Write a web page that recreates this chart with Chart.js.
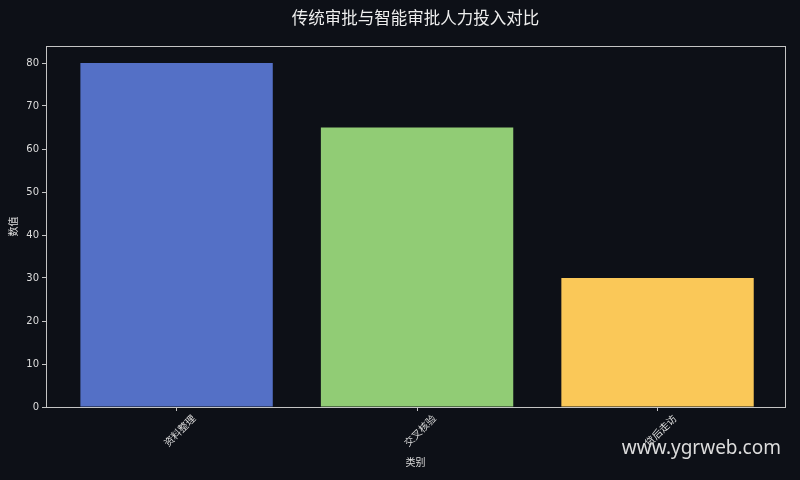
<!DOCTYPE html>
<html>
<head>
<meta charset="utf-8">
<script src="https://cdn.jsdelivr.net/npm/chart.js@4/dist/chart.umd.min.js"></script>
<style>
  html, body { margin: 0; padding: 0; background: #0d1017; }
  #wrap { width: 800px; height: 480px; }
</style>
</head>
<body>
<div id="wrap"><canvas id="barChart" width="800" height="480"></canvas></div>
<script>
const categories = ['资料整理', '交叉核验', '贷后走访'];
const values = [80, 65, 30];
const barColors = ['#5470c6', '#91cc75', '#fac858'];
const yTicks = [0, 10, 20, 30, 40, 50, 60, 70, 80];

const fontFamily = '"DejaVu Sans", "Noto Sans CJK SC", sans-serif';
const textColor = '#dddddd';
const frameColor = '#c4c4c4';

const bgAndFrame = {
    id: 'bgAndFrame',
    beforeDraw(chart) {
        const ctx = chart.ctx;
        ctx.save();
        ctx.fillStyle = '#0d1017';
        ctx.fillRect(0, 0, chart.width, chart.height);
        ctx.restore();
    },
    afterDatasetsDraw(chart) {
        const { ctx, chartArea: a } = chart;
        ctx.save();
        ctx.strokeStyle = frameColor;
        ctx.lineWidth = 1;
        ctx.strokeRect(Math.round(a.left) + 0.5, Math.round(a.top) + 0.5,
            Math.round(a.right - a.left), Math.round(a.bottom - a.top));
        ctx.restore();
    },
    afterDraw(chart) {
        const ctx = chart.ctx;
        ctx.save();
        ctx.font = '19px "Noto Sans", "Open Sans", sans-serif';
        ctx.fillStyle = '#dcdcdc';
        ctx.textAlign = 'right';
        ctx.textBaseline = 'middle';
        ctx.fillText('www.ygrweb.com', 781, 449);
        ctx.restore();
    }
};

new Chart(document.getElementById('barChart'), {
    type: 'bar',
    data: {
        datasets: [{
            label: '数值',
            data: values.map((v, i) => ({ x: i, y: v })),
            backgroundColor: barColors,
            borderWidth: 0,
            barPercentage: 1,
            categoryPercentage: 0.8
        }]
    },
    options: {
        responsive: false,
        animation: false,
        layout: { padding: { left: 0, right: 15, top: 0, bottom: 0 } },
        plugins: {
            legend: { display: false },
            tooltip: { enabled: false },
            title: {
                display: true,
                fullSize: false,
                text: '传统审批与智能审批人力投入对比',
                color: '#eeeeee',
                font: { family: fontFamily, size: 16.5, weight: 'normal' },
                padding: { top: 10, bottom: 16 }
            }
        },
        scales: {
            x: {
                type: 'linear',
                offset: false,
                min: -0.543,
                max: 2.53,
                afterBuildTicks(scale) {
                    scale.ticks = categories.map((c, i) => ({ value: i }));
                },
                afterFit(scale) { scale.height = 73; },
                grid: { offset: false, drawOnChartArea: false, drawTicks: true, tickLength: 4, tickColor: frameColor },
                border: { display: false },
                ticks: {
                    color: textColor,
                    font: { family: fontFamily, size: 10 },
                    minRotation: 45,
                    maxRotation: 45,
                    padding: 2,
                    labelOffset: 18,
                    callback: (v) => categories[v]
                },
                title: {
                    display: true,
                    text: '类别',
                    color: textColor,
                    font: { family: fontFamily, size: 10 },
                    padding: { top: 0, bottom: 11 }
                }
            },
            y: {
                min: 0,
                max: 84,
                afterBuildTicks(scale) {
                    scale.ticks = yTicks.map(v => ({ value: v }));
                },
                afterFit(scale) { scale.width = 46; },
                grid: { drawOnChartArea: false, drawTicks: true, tickLength: 4, tickColor: frameColor },
                border: { display: false },
                ticks: {
                    color: textColor,
                    font: { family: fontFamily, size: 10 },
                    padding: 3
                },
                title: {
                    display: true,
                    text: '数值',
                    color: textColor,
                    font: { family: fontFamily, size: 10 },
                    padding: { top: 8, bottom: 0 }
                }
            }
        }
    },
    plugins: [bgAndFrame]
});
</script>
</body>
</html>
